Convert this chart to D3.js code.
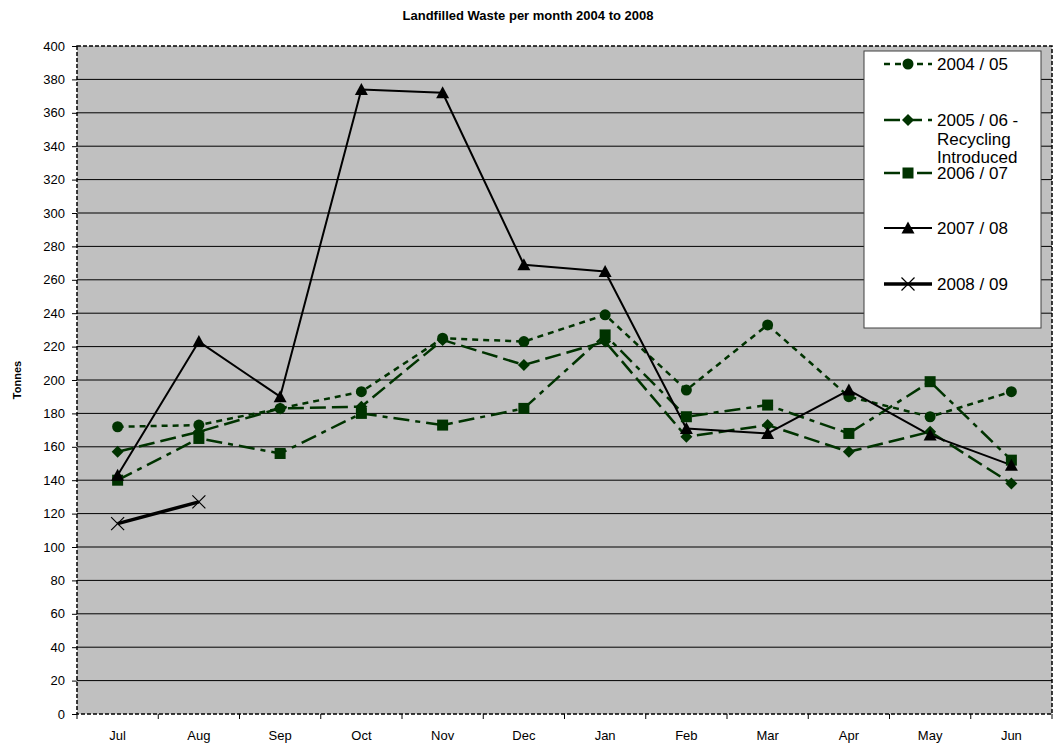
<!DOCTYPE html>
<html>
<head>
<meta charset="utf-8">
<script src="https://cdn.jsdelivr.net/npm/d3@7"></script>
<style>
  body { margin: 0; background: #fff; overflow: hidden; }
  svg { display: block; }
  text { font-family: "Liberation Sans", Arial, sans-serif; }
</style>
</head>
<body>
<div id="chart"></div>
<script>
const months = ["Jul", "Aug", "Sep", "Oct", "Nov", "Dec", "Jan", "Feb", "Mar", "Apr", "May", "Jun"];
const yTicks = [0, 20, 40, 60, 80, 100, 120, 140, 160, 180, 200, 220, 240, 260, 280, 300, 320, 340, 360, 380, 400];

const y2004 = [172, 173, 183, 193, 225, 223, 239, 194, 233, 190, 178, 193];
const y2005 = [157, 169, 183, 184, 224, 209, 223, 166, 173, 157, 169, 138];
const y2006 = [140, 165, 156, 180, 173, 183, 227, 178, 185, 168, 199, 152];
const y2007 = [143, 223, 190, 374, 372, 269, 265, 171, 168, 194, 167, 149];
const y2008 = [114, 127];

const seriesNames = ["2004 / 05", "2005 / 06 - Recycling Introduced", "2006 / 07", "2007 / 08", "2008 / 09"];

const width = 1056;
const height = 751;
const margin = { top: 46, right: 4, bottom: 37, left: 77 };
const innerWidth = width - margin.left - margin.right;
const innerHeight = height - margin.top - margin.bottom;

const green = "#003300";
const fontFamily = "'Liberation Sans', Arial, sans-serif";

const series = [
  { name: seriesNames[0], values: y2004, color: green, width: 2.5, dash: "6,5", marker: "circle" },
  { name: seriesNames[1], values: y2005, color: green, width: 2.5, dash: "16,6", marker: "diamond" },
  { name: seriesNames[2], values: y2006, color: green, width: 2.5, dash: "16,6,5,6", marker: "square" },
  { name: seriesNames[3], values: y2007, color: "#000", width: 2, dash: null, marker: "triangle" },
  { name: seriesNames[4], values: y2008, color: "#000", width: 3.5, dash: null, marker: "x" }
];

const svg = d3.select("#chart")
  .append("svg")
  .attr("width", width)
  .attr("height", height);

svg.append("text")
  .attr("x", 528)
  .attr("y", 20)
  .attr("text-anchor", "middle")
  .attr("font-size", 13)
  .attr("font-weight", "bold")
  .text("Landfilled Waste per month 2004 to 2008");

const g = svg.append("g")
  .attr("transform", `translate(${margin.left}, ${margin.top})`);

const xScale = d3.scaleBand()
  .domain(months)
  .range([0, innerWidth]);

const yScale = d3.scaleLinear()
  .domain([0, 400])
  .range([innerHeight, 0]);

const xPos = i => xScale(months[i]) + xScale.bandwidth() / 2;

// plot background
g.append("rect")
  .attr("width", innerWidth)
  .attr("height", innerHeight)
  .attr("fill", "#c0c0c0");

// gridlines
g.selectAll(".grid")
  .data(yTicks.filter(d => d > 0 && d < 400))
  .enter().append("line")
  .attr("x1", 0)
  .attr("x2", innerWidth)
  .attr("y1", d => yScale(d))
  .attr("y2", d => yScale(d))
  .attr("stroke", "#000")
  .attr("stroke-width", 1);

// y axis
const yAxis = d3.axisLeft(yScale)
  .tickValues(yTicks)
  .tickSize(5)
  .tickPadding(7);

const yg = g.append("g")
  .call(yAxis)
  .attr("font-size", 13)
  .attr("font-family", fontFamily);
yg.select(".domain").remove();
yg.selectAll("text").attr("fill", "#000");
yg.selectAll("line").attr("stroke", "#000");

// x axis labels (centered in category)
const xAxis = d3.axisBottom(xScale).tickSize(0).tickPadding(17);
const xg = g.append("g")
  .attr("transform", `translate(0, ${innerHeight})`)
  .call(xAxis)
  .attr("font-size", 13)
  .attr("font-family", fontFamily);
xg.select(".domain").remove();
xg.selectAll("text").attr("fill", "#000");

// x ticks at category boundaries
g.selectAll(".xtick")
  .data(months.map(m => xScale(m)).concat([innerWidth]))
  .enter().append("line")
  .attr("x1", d => d)
  .attr("x2", d => d)
  .attr("y1", innerHeight)
  .attr("y2", innerHeight + 5)
  .attr("stroke", "#000");

// y axis label
svg.append("text")
  .attr("transform", "rotate(-90)")
  .attr("x", -(margin.top + innerHeight / 2))
  .attr("y", 21)
  .attr("text-anchor", "middle")
  .attr("font-size", 11)
  .attr("font-weight", "bold")
  .text("Tonnes");

function drawMarker(sel, type, color) {
  if (type === "circle") {
    sel.append("circle").attr("r", 5.5).attr("fill", color);
  } else if (type === "diamond") {
    sel.append("path").attr("d", "M0,-6L6,0L0,6L-6,0Z").attr("fill", color);
  } else if (type === "square") {
    sel.append("rect").attr("x", -5.5).attr("y", -5.5).attr("width", 11).attr("height", 11).attr("fill", color);
  } else if (type === "triangle") {
    sel.append("path").attr("d", "M0,-6.5L6.5,5.5L-6.5,5.5Z").attr("fill", color);
  } else if (type === "x") {
    sel.append("path").attr("d", "M-6.5,-6.5L6.5,6.5M-6.5,6.5L6.5,-6.5").attr("stroke", color).attr("stroke-width", 1.2).attr("fill", "none");
  }
}

const line = d3.line()
  .x((d, i) => xPos(i))
  .y(d => yScale(d));

series.forEach(s => {
  g.append("path")
    .datum(s.values)
    .attr("fill", "none")
    .attr("stroke", s.color)
    .attr("stroke-width", s.width)
    .attr("stroke-dasharray", s.dash)
    .attr("stroke-linejoin", "round")
    .attr("d", line);
});

series.forEach(s => {
  s.values.forEach((v, i) => {
    const m = g.append("g").attr("transform", `translate(${xPos(i)}, ${yScale(v)})`);
    drawMarker(m, s.marker, s.color);
  });
});

// plot border (dashed)
g.append("rect")
  .attr("width", innerWidth)
  .attr("height", innerHeight)
  .attr("fill", "none")
  .attr("stroke", "#000")
  .attr("stroke-width", 1.5)
  .attr("stroke-dasharray", "4,2");

// legend
const legend = svg.append("g");
legend.append("rect")
  .attr("x", 864)
  .attr("y", 51)
  .attr("width", 177)
  .attr("height", 277)
  .attr("fill", "#fff")
  .attr("stroke", "#404040")
  .attr("stroke-width", 1);

const legendY = [64, 120, 173, 228, 284];
const legendLines = [["2004 / 05"], ["2005 / 06 -", "Recycling", "Introduced"], ["2006 / 07"], ["2007 / 08"], ["2008 / 09"]];

series.forEach((s, i) => {
  const ly = legendY[i];
  legend.append("line")
    .attr("x1", 884)
    .attr("x2", 932)
    .attr("y1", ly)
    .attr("y2", ly)
    .attr("stroke", s.color)
    .attr("stroke-width", s.width)
    .attr("stroke-dasharray", s.dash);
  const m = legend.append("g").attr("transform", `translate(908, ${ly})`);
  drawMarker(m, s.marker, s.color);
  const t = legend.append("text")
    .attr("x", 937)
    .attr("y", ly + 6)
    .attr("font-size", 17);
  legendLines[i].forEach((txt, j) => {
    t.append("tspan").attr("x", 937).attr("dy", j === 0 ? 0 : 18.5).text(txt);
  });
});
</script>
</body>
</html>
